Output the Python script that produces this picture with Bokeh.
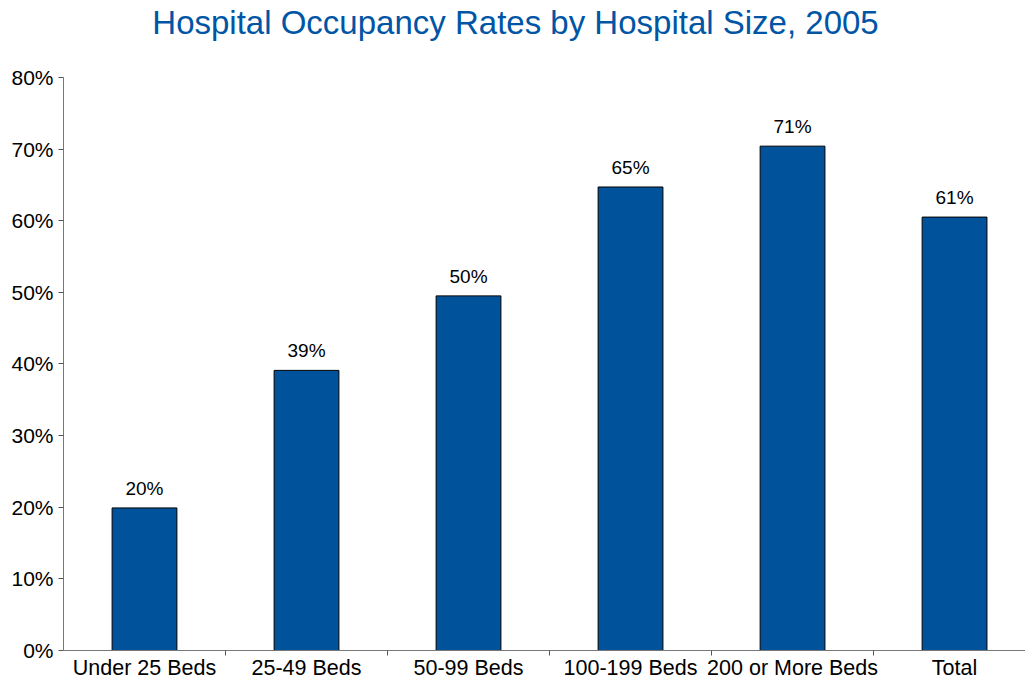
from bokeh.plotting import figure
from bokeh.models import FixedTicker, ColumnDataSource, NumeralTickFormatter, Label
from bokeh.embed import file_html
from bokeh.resources import INLINE

title_text = "Hospital Occupancy Rates by Hospital Size, 2005"
categories = ["Under 25 Beds", "25-49 Beds", "50-99 Beds", "100-199 Beds", "200 or More Beds", "Total"]
rates = [19.9, 39.1, 49.5, 64.7, 70.4, 60.5]
rate_labels = ["20%", "39%", "50%", "65%", "71%", "61%"]
y_ticks = [0, 10, 20, 30, 40, 50, 60, 70, 80]

FONT = "Liberation Sans"
BLUE = "#00529B"

xs = [i + 0.5 for i in range(len(categories))]
src = ColumnDataSource(dict(x=xs, top=rates, lab=rate_labels))

# frame spans the full figure height above the axis; the y axis itself stops at 80%
Y_TOP = 80 * 651 / 574
p = figure(width=1025, height=682, output_backend="svg", toolbar_location=None,
           x_range=(0, 5.938), y_range=(0, Y_TOP),
           min_border_left=63, min_border_right=0, min_border_bottom=31, min_border_top=0)

p.add_layout(Label(x=2.79, y=80 * 629 / 574, text=title_text, text_align="center", text_baseline="middle",
                   text_font=FONT, text_font_size="33px", text_color="#0055A5"))

p.vbar(x="x", top="top", width=0.4, source=src, fill_color=BLUE, line_color="black", line_width=1)
p.text(x="x", y="top", text="lab", source=src, text_align="center", text_baseline="bottom",
       y_offset=-9, text_font_size="19px", text_color="black",
       text_font={"value": FONT})

p.grid.visible = False
p.outline_line_color = None
p.background_fill_color = "white"

p.xaxis.ticker = FixedTicker(ticks=xs, minor_ticks=[1, 2, 3, 4, 5])
p.xaxis.major_label_overrides = {x: c for x, c in zip(xs, categories)}
p.xaxis.major_tick_line_color = None
p.xaxis.major_tick_out = 0
p.xaxis.major_tick_in = 0
p.xaxis.minor_tick_out = 5
p.xaxis.minor_tick_in = 0
p.xaxis.minor_tick_line_color = "#555555"
p.xaxis.axis_line_color = "#777777"
p.xaxis.major_label_text_font = FONT
p.xaxis.major_label_text_font_size = "21.5px"
p.xaxis.major_label_text_color = "black"
p.xaxis.major_label_standoff = 0

p.yaxis.bounds = (0, 80)
p.yaxis.ticker = FixedTicker(ticks=y_ticks, minor_ticks=[])
p.yaxis.formatter = NumeralTickFormatter(format="0")
p.yaxis.major_label_overrides = {t: f"{t}%" for t in y_ticks}
p.yaxis.major_tick_out = 5
p.yaxis.major_tick_in = 0
p.yaxis.major_tick_line_color = "#555555"
p.yaxis.axis_line_color = "#777777"
p.yaxis.major_label_text_font = FONT
p.yaxis.major_label_text_font_size = "21px"
p.yaxis.major_label_text_color = "black"
p.yaxis.major_label_standoff = 5

open("out.html", "w").write(file_html(p, INLINE))
